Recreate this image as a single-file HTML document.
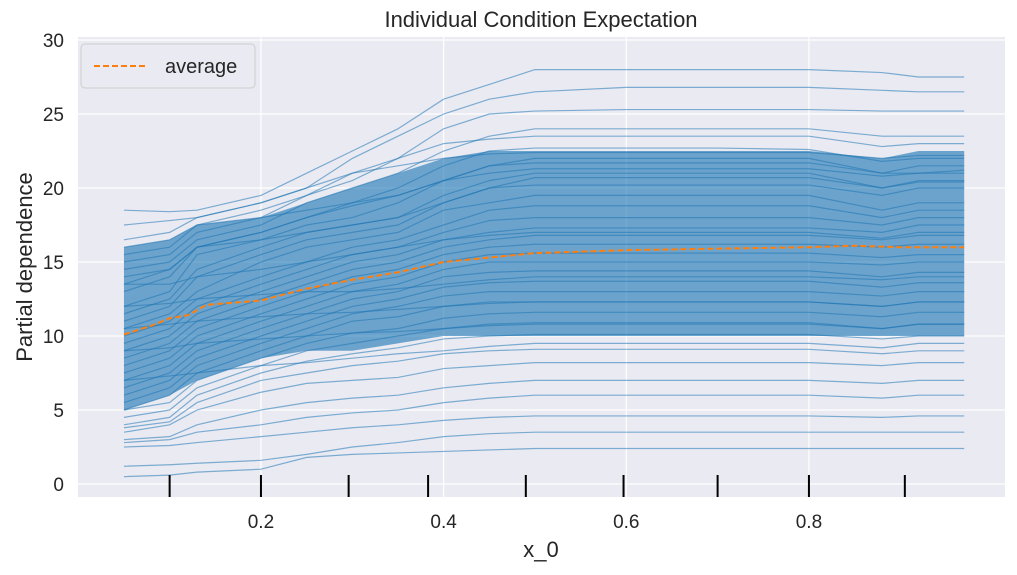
<!DOCTYPE html>
<html><head><meta charset="utf-8">
<style>
body{margin:0;background:#fff;font-family:"Liberation Sans",sans-serif;}
svg text{font-family:"Liberation Sans",sans-serif;fill:#262626;}
</style></head>
<body>
<svg id="chart" width="1017" height="570" xmlns="http://www.w3.org/2000/svg">
<rect x="78" y="37" width="927" height="460" fill="#eaeaf2"/>
<g id="grid"></g>
<g id="band"></g>
<g id="lines"></g>
<g id="avg"></g>
<g id="rug"></g>
<g id="ticks"></g>
<text x="541" y="27" font-size="22" text-anchor="middle">Individual Condition Expectation</text>
<text x="541" y="557" font-size="22" text-anchor="middle">x_0</text>
<text transform="translate(32,267) rotate(-90)" font-size="22" text-anchor="middle">Partial dependence</text>
<g>
<rect x="81" y="44" width="174" height="44" rx="4" fill="#eaeaf2" stroke="#cccccc" opacity="0.95"/>
<line x1="94" y1="66" x2="146" y2="66" stroke="#ff7f0e" stroke-width="2" stroke-dasharray="6,3"/>
<text x="165" y="73" font-size="20">average</text>
</g>
</svg>
<script>
const xGrid=[0.05,0.1,0.13,0.2,0.25,0.3,0.35,0.4,0.45,0.5,0.6,0.7,0.8,0.88,0.92,0.97];
const iceLines=[
[18.5,18.4,18.5,19.5,21,22.5,24,26,27,28,28,28,28,27.8,27.5,27.5],
[16.5,17,18,19,20,22,23.5,25,26,26.5,26.8,26.8,26.8,26.6,26.5,26.5],
[15,15.5,17,18,19.5,20.5,22,24,25,25.2,25.3,25.3,25.3,25.2,25.2,25.2],
[14.5,15,16.5,17.5,19,20,21,22.5,23.5,24,24,24,24,23.5,23.5,23.5],
[13,14,16,17,18,19,20,21.5,22.5,22.7,22.7,22.7,22.6,21.8,22,22],
[12,13,15.5,16.5,17.5,18,19,20.5,21.5,22,22,22,22,21,21,21.2],
[11.5,12.5,14.5,16,17,17.5,18,19.5,20.5,21,21,21,21,20,20.5,20.5],
[11,12,14,15.5,16.5,17,17.5,19,20,20.2,20.2,20.2,20.2,19.5,20,20],
[10.5,11.5,13,15,16,16.5,17,18.5,19,19.5,19.5,19.5,19.5,18.5,19,19],
[10,11,12.5,14,15,16,16.5,17.5,18.5,18.8,18.8,18.8,18.8,18,18.5,18.5],
[9.5,10.5,12,13.5,14.5,15.5,16,17,17.8,18,18,18,18,17.5,18,18],
[9,10,11.5,13,14,15,15.5,16.5,17,17.3,17.3,17.3,17.3,17,17.5,17.5],
[8.5,9.5,11,12.5,13.5,14.5,15,16,16.5,16.8,16.8,16.8,16.8,16.5,16.8,16.8],
[8,9,10.5,12,13,14,14.5,15.5,16,16.2,16.2,16.2,16.2,16,16.2,16.2],
[7.5,8.5,10,11.5,12.5,13.5,14,15,15.5,15.6,15.6,15.6,15.6,15.3,15.5,15.5],
[7,8,9.5,11,12,13,13.5,14.5,15,15,15,15,15,14.8,15,15],
[6.5,7.5,9,10.5,11.5,12.5,13,14,14.3,14.4,14.4,14.4,14.4,14,14.3,14.3],
[6,7,8.5,10,11,12,12.5,13.3,13.6,13.7,13.7,13.7,13.7,13.3,13.6,13.6],
[5.5,6.5,8,9.5,10.5,11.5,12,12.7,13,13,13,13,13,12.7,13,13],
[5,6,7.5,9,10,11,11.3,12,12.3,12.3,12.3,12.3,12.3,12,12.3,12.3],
[5,5.5,7,8.5,9.5,10.2,10.5,11.2,11.5,11.6,11.6,11.6,11.6,11.3,11.6,11.6],
[4.5,5,6.5,8,9,9.5,10,10.5,10.8,10.9,10.9,10.9,10.9,10.5,10.8,10.8],
[4,4.5,6,7.5,8.3,8.8,9.2,9.8,10,10.1,10.1,10.1,10.1,9.8,10,10],
[3.8,4.2,5.5,7,7.5,8,8.3,8.8,9,9.1,9.1,9.1,9.1,8.8,9,9],
[3.5,4,5,6.2,6.8,7,7.2,7.8,8,8.2,8.2,8.2,8.2,8,8.2,8.2],
[3,3.2,4,5,5.5,5.8,6,6.5,6.8,7,7,7,7,6.8,7,7],
[2.8,3,3.5,4,4.5,4.8,5,5.5,5.8,6,6,6,6,5.8,6,6],
[2.5,2.6,2.8,3.2,3.5,3.8,4,4.3,4.5,4.6,4.6,4.6,4.6,4.5,4.6,4.6],
[1.2,1.3,1.4,1.6,2,2.5,2.8,3.2,3.4,3.5,3.5,3.5,3.5,3.5,3.5,3.5],
[0.5,0.6,0.8,1,1.8,2,2.1,2.2,2.3,2.4,2.4,2.4,2.4,2.4,2.4,2.4],
[17.5,17.8,18,19,20,21,21.5,22,22.3,22.4,22.4,22.4,22.4,22,22.2,22.2],
[16,16.5,17.5,18,18.5,19,19.5,20.5,21.5,21.7,21.7,21.7,21.7,21,21.5,21.5],
[14,14.5,16,16.5,17,17.5,18,19,20,20.7,20.7,20.7,20.7,20,20.4,20.4],
[13.5,13.5,14,14.5,15,15.5,16,16.5,16.8,17,17,17,17,16.6,17,17],
[12,12.2,12.5,12.8,13,13,13.2,13.5,13.8,14,14,14,14,13.8,14,14],
[10.5,10.8,11,11.3,11.5,11.6,11.8,12,12.2,12.3,12.3,12.3,12.3,12,12.3,12.3],
[9,9.2,9.5,9.8,10,10.2,10.3,10.5,10.7,10.8,10.8,10.8,10.8,10.5,10.8,10.8],
[7,7.3,7.5,8,8.2,8.5,8.8,9,9.3,9.5,9.5,9.5,9.5,9.2,9.5,9.5],
[15.5,16,17.5,18.5,19.5,21,22,23,23.3,23.5,23.5,23.5,23.5,22.8,23,23],
[13.5,14.5,16,17,18,18.8,19.5,20.5,21,21.3,21.3,21.3,21.3,20.8,21,21]
];
const bandUpper=[16,16.5,17.5,18,19,20,21,22,22.5,22.5,22.5,22.5,22.5,22,22.5,22.5];
const bandLower=[5,6,7,8.5,9,9,9.5,10,10,10,10,10,10,10,10,10];
const avgX=[0.05,0.08,0.1,0.12,0.14,0.2,0.25,0.3,0.35,0.4,0.45,0.5,0.6,0.7,0.8,0.85,0.9,0.97];
const avgY=[10.1,10.7,11.2,11.4,12.1,12.4,13.2,13.8,14.3,15.0,15.3,15.6,15.8,15.9,16.0,16.1,16.0,16.0];
const rugX=[0.1,0.2,0.296,0.383,0.49,0.597,0.7,0.8,0.905];
const xTicks=[0.2,0.4,0.6,0.8];
const yTicks=[0,5,10,15,20,25,30];
const NS="http://www.w3.org/2000/svg";
const sx=v=>78.3+v*913.3;
const sy=v=>484-v*14.8;
function mk(tag,attrs,parent){const e=document.createElementNS(NS,tag);for(const k in attrs)e.setAttribute(k,attrs[k]);document.getElementById(parent).appendChild(e);return e;}
xTicks.forEach(t=>{
 const g=mk('line',{x1:sx(t),x2:sx(t),y1:37,y2:497,stroke:'#fff','stroke-width':1.2},'grid');
 
 
 const l=mk('text',{x:sx(t),y:528,'font-size':19,'text-anchor':'middle'},'ticks');l.textContent=t.toFixed(1);
 
 
});
yTicks.forEach(t=>{
 const g=mk('line',{x1:78,x2:1005,y1:sy(t),y2:sy(t),stroke:'#fff','stroke-width':1.2},'grid');
 
 
 const l=mk('text',{x:64,y:sy(t)+7,'font-size':19,'text-anchor':'end'},'ticks');l.textContent=t;
 
 
});
let bp=xGrid.map((x,i)=>sx(x)+','+sy(bandUpper[i])).join(' ')+' '+xGrid.map((x,i)=>sx(x)+','+sy(bandLower[i])).reverse().join(' ');
const band=mk('polygon',{points:bp,fill:'#1f77b4','fill-opacity':0.62},'band');


iceLines.forEach(r=>{
 const p=mk('polyline',{points:xGrid.map((x,i)=>sx(x)+','+sy(r[i])).join(' '),fill:'none',stroke:'#1f77b4','stroke-width':1.2,'stroke-opacity':0.55},'lines');
 
 
});
const a=mk('polyline',{points:avgX.map((x,i)=>sx(x)+','+sy(avgY[i])).join(' '),fill:'none',stroke:'#ff7f0e','stroke-width':2,'stroke-dasharray':'6,3'},'avg');


rugX.forEach(x=>{
 const r=mk('line',{x1:sx(x),x2:sx(x),y1:475,y2:497,stroke:'#000','stroke-width':2},'rug');
 
 
});
</script>
</body></html>
